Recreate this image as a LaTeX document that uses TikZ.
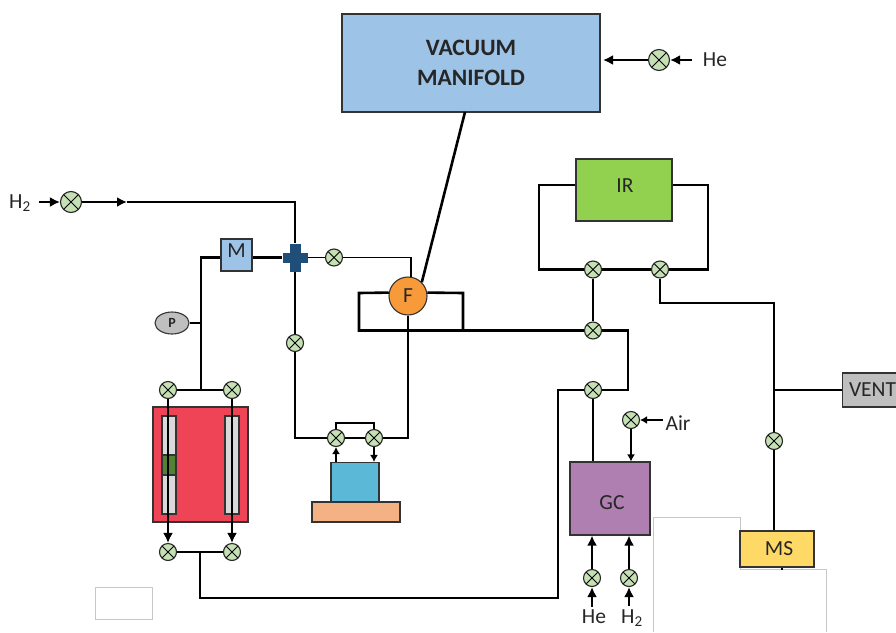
\documentclass[tikz,border=0pt]{standalone}
\usepackage{fontspec}
\setmainfont{Carlito}
\usetikzlibrary{
    arrows.meta,
    calc,
    shapes.geometric,
}

\definecolor{vacblue}{HTML}{9DC3E6}
\definecolor{valvegreen}{HTML}{C5E0B4}
\definecolor{crossblue}{HTML}{1F4E79}
\definecolor{furnorange}{HTML}{F79A3A}
\definecolor{irgreen}{HTML}{92D050}
\definecolor{gcpurple}{HTML}{AE7FB0}
\definecolor{msyellow}{HTML}{FFD966}
\definecolor{reactorred}{HTML}{EE4455}
\definecolor{bedgreen}{HTML}{548235}
\definecolor{satblue}{HTML}{5BB8D6}
\definecolor{plateorange}{HTML}{F4B183}
\definecolor{labelgrey}{HTML}{262626}

\begin{document}
\begin{tikzpicture}[
    x=1pt, y=-1pt,
    every node/.style={text=labelgrey, font=\fontsize{21.5}{26}\selectfont},
    unit/.style={draw=black!80, line width=1.1pt, inner sep=0pt},
    valve/.style={circle, draw=black!85, line width=1.1pt, fill=valvegreen, inner sep=0pt, minimum size=17pt,
        path picture={
            \draw[black, line width=1pt] (path picture bounding box.north west) -- (path picture bounding box.south east);
            \draw[black, line width=1pt] (path picture bounding box.north east) -- (path picture bounding box.south west);
    }},
    bigvalve/.style={valve, minimum size=21pt},
    junction/.style={fill=crossblue, inner sep=0pt},
    tube/.style={draw=black!80, line width=1.1pt, fill=black!15, inner sep=0pt, minimum width=14pt, minimum height=98pt},
    pipe/.style={draw=black, line width=2.6pt},
    thinpipe/.style={draw=black, line width=1.8pt},
    flow/.style={pipe, -{Latex[length=10pt,width=10pt]}},
    thinflow/.style={thinpipe, -{Latex[length=7pt,width=8pt]}},
    ghost/.style={draw=black!22, line width=0.6pt},
]
\useasboundingbox (0,0) rectangle (896,632);

% LEFTOVER OUTLINES
\node[ghost, minimum width=57pt, minimum height=32pt, inner sep=0pt] at (123.5,603) (blank) {};
\draw[ghost] (653,632) -- (653,517) -- (740,517) -- (740,569) -- (826,569) -- (826,632);

% BIG UNITS
\node[unit, fill=vacblue, minimum width=258pt, minimum height=98pt, align=center, font=\fontsize{23.5}{30}\selectfont\bfseries] at (471,63) (vacuum) {VACUUM\\MANIFOLD};
\node[unit, fill=irgreen, minimum width=96pt, minimum height=62pt, text depth=8pt] at (624,190) (ir) {\hspace*{2pt}IR};
\node[unit, fill=gcpurple, minimum width=80pt, minimum height=73pt, text height=22pt] at (610,498.5) (gc) {\hspace*{4pt}GC};
\node[unit, fill=msyellow, minimum width=74pt, minimum height=36pt] at (777,549) (ms) {\hspace*{4pt}MS};
\node[unit, fill=black!25, minimum width=60pt, minimum height=34pt, anchor=west] at (842,390) (vent) {VENT};
\node[unit, fill=vacblue, minimum width=31pt, minimum height=32pt, text depth=8pt] at (236.5,255) (meter) {M};
\node[unit, ellipse, fill=black!25, minimum width=34pt, minimum height=22pt, font=\fontsize{14}{16}\selectfont\bfseries] at (172,323) (gauge) {P};

% REACTOR
\node[unit, fill=reactorred, minimum width=95pt, minimum height=115pt] at (200.5,464.5) (oven) {};
\node[tube] at (169,465) (tube_l) {};
\node[tube] at (232,465) (tube_r) {};
\node[unit, fill=bedgreen, minimum width=14pt, minimum height=20pt] at (169,465) (bed) {};

% SATURATOR
\node[unit, fill=satblue, minimum width=48pt, minimum height=40pt] at (355,482.5) (sat) {};
\node[unit, fill=plateorange, minimum width=88pt, minimum height=20pt] at (356,512) (plate) {};

% VALVES
\node[bigvalve] at (659,60) (v_he) {};
\node[bigvalve] at (71,202) (v_h2) {};
\node[valve] at (334,257.5) (v_loop) {};
\node[valve] at (295,343) (v_feed) {};
\node[valve] at (168,390) (v_in_l) {};
\node[valve] at (232,390) (v_in_r) {};
\node[valve] at (168,552) (v_out_l) {};
\node[valve] at (232,552) (v_out_r) {};
\node[valve] at (336,438) (v_sat_l) {};
\node[valve] at (374,438) (v_sat_r) {};
\node[valve] at (593,269.5) (v_ir_l) {};
\node[valve] at (660,269.5) (v_ir_r) {};
\node[valve] at (593,330.5) (v_mid) {};
\node[valve] at (593,390) (v_gc) {};
\node[valve] at (631,420) (v_air) {};
\node[valve] at (592,578) (v_gc_he) {};
\node[valve] at (629,578) (v_gc_h2) {};
\node[valve] at (774,441) (v_ms) {};

% CROSS AND FURNACE
\node[junction, minimum width=11pt, minimum height=28pt] at (295,257.5) (cross_v) {};
\node[junction, minimum width=25pt, minimum height=10pt] at (295,257.5) (cross_h) {};
\node[unit, circle, fill=furnorange, minimum size=38pt] at (408,296) (furn) {F};

% LABELS
\node at (715,60) (lab_he) {He};
\node at (20,203) (lab_h2) {H\textsubscript{2}};
\node at (678,423) (lab_air) {Air};
\node at (594,617) (lab_gc_he) {He};
\node at (632,618) (lab_gc_h2) {H\textsubscript{2}};

% CORNERS AND FREE ENDS
\coordinate (he_in) at (692,60);
\coordinate (he_out) at (603,60);
\coordinate (h2_in) at (39,202);
\coordinate (h2_mid) at (127,202);
\coordinate (h2_turn) at (295,202);
\coordinate (vac_out) at (465,112);
\coordinate (rack_turn) at (201,257.5);
\coordinate (rack_base) at (201,390);
\coordinate (rack_p) at (201,323);
\coordinate (loop_turn) at (411.3,257.5);
\coordinate (feed_turn) at (295,438);
\coordinate (back_turn) at (408,438);
\coordinate (furn_tl) at (359,293);
\coordinate (furn_bl) at (359,330.5);
\coordinate (furn_br) at (463,330.5);
\coordinate (furn_tr) at (463,293);
\coordinate (mid_turn) at (628,330.5);
\coordinate (gc_turn) at (628,390);
\coordinate (ret_top) at (558,390);
\coordinate (ret_bot) at (558,598);
\coordinate (out_bot) at (200,598);
\coordinate (out_base) at (200,552);
\coordinate (ir_tl) at (539,185);
\coordinate (ir_bl) at (539,269.5);
\coordinate (ir_br) at (708,269.5);
\coordinate (ir_tr) at (708,185);
\coordinate (vent_a) at (660,303);
\coordinate (vent_b) at (774,303);
\coordinate (vent_c) at (774,390);
\coordinate (by_l) at (336,423);
\coordinate (by_r) at (374,423);
\coordinate (ms_tick) at (782,570);
\coordinate (air_in) at (663,420);

% VACUUM SIDE
\draw[flow] (v_he) -- (he_out);
\draw[flow] (he_in) -- (v_he);
\draw[pipe] (vac_out) -- (furn.45);

% H2 FEED
\draw[flow] (h2_in) -- (v_h2);
\draw[flow] (v_h2) -- (h2_mid);
\draw[thinpipe] (h2_mid) -- (h2_turn) -- (cross_v);

% AROUND THE CROSS
\draw[pipe] (meter.east |- cross_h) -- (cross_h);
\draw[thinpipe] (cross_h) -- (v_loop);
\draw[thinpipe] (v_loop) -- (loop_turn) -- (loop_turn |- furn.80);
\draw[thinpipe] (cross_v) -- (v_feed);
\draw[pipe] (v_feed) -- (feed_turn) -- (v_sat_l);
\draw[pipe] (v_sat_l) -- (v_sat_r);
\draw[pipe] (v_sat_r) -- (back_turn) -- (furn.south);
\draw[pipe] (v_sat_l) -- (by_l) -- (by_r) -- (v_sat_r);
\draw[thinflow] (sat.north -| v_sat_l) -- (v_sat_l);
\draw[thinflow] (v_sat_r) -- (sat.north -| v_sat_r);

% REACTOR LINES
\draw[pipe] (meter.west |- rack_turn) -- (rack_turn) -- (rack_base);
\draw[thinpipe] (gauge) -- (rack_p);
\draw[pipe] (v_in_l) -- (v_in_r);
\draw[flow] (v_in_l) -- (v_out_l);
\draw[flow] (v_in_r) -- (v_out_r);
\draw[pipe] (v_out_l) -- (v_out_r);
\draw[pipe] (out_base) -- (out_bot) -- (ret_bot) -- (ret_top) -- (v_gc);

% FURNACE LOOP AND GC
\draw[pipe] (furn.170) -- (furn_tl) -- (furn_bl) -- (furn_br) -- (furn_tr) -- (furn.10);
\draw[pipe] (furn_br) -- (v_mid);
\draw[pipe] (v_mid) -- (mid_turn) -- (gc_turn) -- (v_gc);
\draw[pipe] (v_ir_l) -- (v_mid);
\draw[pipe] (v_gc) -- (v_gc |- gc.north);
\draw[thinflow] (air_in) -- (v_air);
\draw[thinflow] (v_air) -- (v_air |- gc.north);
\draw[flow] (v_gc_he) -- (v_gc_he |- gc.south);
\draw[flow] (v_gc_h2) -- (v_gc_h2 |- gc.south);
\draw[flow] (lab_gc_he.north -| v_gc_he) -- (v_gc_he);
\draw[flow] (lab_gc_h2.north -| v_gc_h2) -- (v_gc_h2);

% IR LOOP AND VENT
\draw[pipe] (ir.west |- ir_tl) -- (ir_tl) -- (ir_bl) -- (v_ir_l);
\draw[pipe] (v_ir_l) -- (v_ir_r);
\draw[pipe] (v_ir_r) -- (ir_br) -- (ir_tr) -- (ir.east |- ir_tr);
\draw[pipe] (v_ir_r) -- (vent_a) -- (vent_b) -- (vent_c);
\draw[pipe] (vent_c) -- (vent);
\draw[pipe] (vent_c) -- (v_ms);
\draw[pipe] (v_ms) -- (ms.north -| v_ms);
\draw[thinpipe] (ms.south -| ms_tick) -- (ms_tick);

\end{tikzpicture}
\end{document}
